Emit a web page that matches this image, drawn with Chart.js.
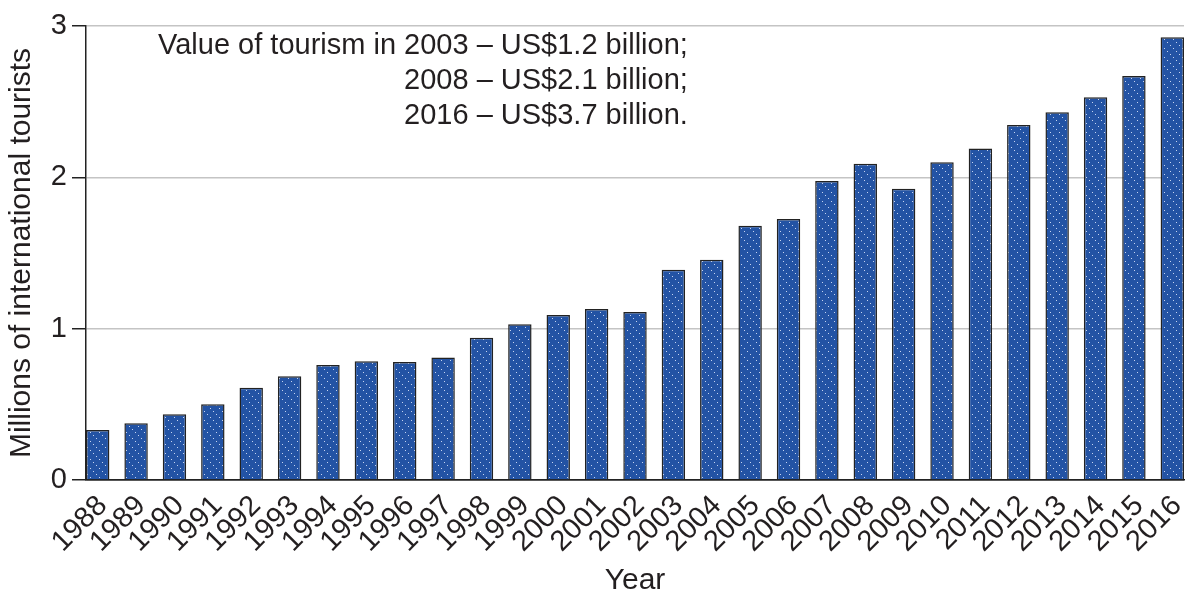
<!DOCTYPE html>
<html>
<head>
<meta charset="utf-8">
<script src="https://cdn.jsdelivr.net/npm/chart.js@4"></script>
<style>
  html, body { margin: 0; padding: 0; background: #fff; }
  #wrap { width: 1194px; height: 599px; position: relative; }
</style>
</head>
<body>
<div id="wrap"><canvas id="chart"></canvas></div>
<script>
const years = ['1988', '1989', '1990', '1991', '1992', '1993', '1994', '1995', '1996', '1997',
  '1998', '1999', '2000', '2001', '2002', '2003', '2004', '2005', '2006', '2007',
  '2008', '2009', '2010', '2011', '2012', '2013', '2014', '2015', '2016'];
const tourists = [0.33, 0.375, 0.435, 0.50, 0.61, 0.685, 0.76, 0.785, 0.78, 0.81,
  0.94, 1.03, 1.09, 1.13, 1.11, 1.39, 1.455, 1.68, 1.725, 1.975,
  2.09, 1.925, 2.10, 2.19, 2.345, 2.43, 2.53, 2.67, 2.925];
const noteLead = 'Value of tourism in ';
const noteLines = ['2003 – US$1.2 billion;', '2008 – US$2.1 billion;', '2016 – US$3.7 billion.'];

const FONT = '"Liberation Sans", Arial, Helvetica, sans-serif';
const INK = '#231f20';

// blue fill with dotted diagonal lines going down-right
function makePattern() {
  const c = document.createElement('canvas');
  c.width = 9; c.height = 9;
  const g = c.getContext('2d');
  g.fillStyle = '#2353a4';
  g.fillRect(0, 0, 9, 9);
  g.fillStyle = '#c6d4f0';
  g.fillRect(0, 0, 1, 1);
  g.fillRect(3, 3, 1, 1);
  g.fillRect(6, 6, 1, 1);
  return document.getElementById('chart').getContext('2d').createPattern(c, 'repeat');
}

const notePlugin = {
  id: 'note',
  afterDraw(chart) {
    const ctx = chart.ctx;
    ctx.save();
    ctx.font = '29px ' + FONT;
    ctx.fillStyle = INK;
    ctx.textBaseline = 'middle';
    const x0 = 158;
    const x1 = x0 + ctx.measureText(noteLead).width;
    ctx.fillText(noteLead + noteLines[0], x0, 46);
    ctx.fillText(noteLines[1], x1, 81);
    ctx.fillText(noteLines[2], x1, 116);
    ctx.restore();
  }
};

new Chart(document.getElementById('chart'), {
  type: 'bar',
  data: {
    datasets: [{
      data: tourists.map((v, i) => ({ x: i, y: v })),
      backgroundColor: makePattern(),
      borderColor: '#222',
      borderWidth: 1.5,
      barPercentage: 0.61,
      categoryPercentage: 1,
    }],
  },
  options: {
    responsive: true,
    maintainAspectRatio: false,
    animation: false,
    layout: { padding: { top: 26, right: 10, left: 0, bottom: 0 } },
    plugins: { legend: { display: false }, tooltip: { enabled: false } },
    scales: {
      x: {
        type: 'linear',
        offset: false,
        min: -0.305,
        max: 28.305,
        grid: { display: false, drawTicks: false },
        border: { display: true, color: '#222', width: 1.5 },
        ticks: {
          stepSize: 1,
          includeBounds: false,
          autoSkip: false,
          minRotation: 45,
          maxRotation: 45,
          padding: 9,
          labelOffset: 5,
          color: INK,
          font: { family: FONT, size: 29 },
          callback: (v) => (Number.isInteger(v) ? years[v] : ''),
        },
        title: {
          display: true,
          text: 'Year',
          color: INK,
          font: { family: FONT, size: 30 },
          padding: { top: 0, bottom: 0 },
        },
        afterFit: (s) => {
          s.height = 119;
          s.paddingLeft = 0;
          s.paddingRight = 0;
        },
      },
      y: {
        min: 0,
        max: 3,
        grid: {
          color: (c) => (c.tick && c.tick.value === 0 ? '#222' : '#c4c4c4'),
          tickColor: '#222',
          tickLength: 14,
          lineWidth: 1.5,
        },
        border: { display: true, color: '#222', width: 1.5 },
        ticks: {
          stepSize: 1,
          padding: 5,
          color: INK,
          font: { family: FONT, size: 29 },
        },
        title: {
          display: true,
          text: 'Millions of international tourists',
          color: INK,
          font: { family: FONT, size: 30 },
          padding: { top: 4, bottom: 0 },
        },
        afterFit: (s) => { s.width = 86; },
      },
    },
  },
  plugins: [notePlugin],
});
</script>
</body>
</html>
